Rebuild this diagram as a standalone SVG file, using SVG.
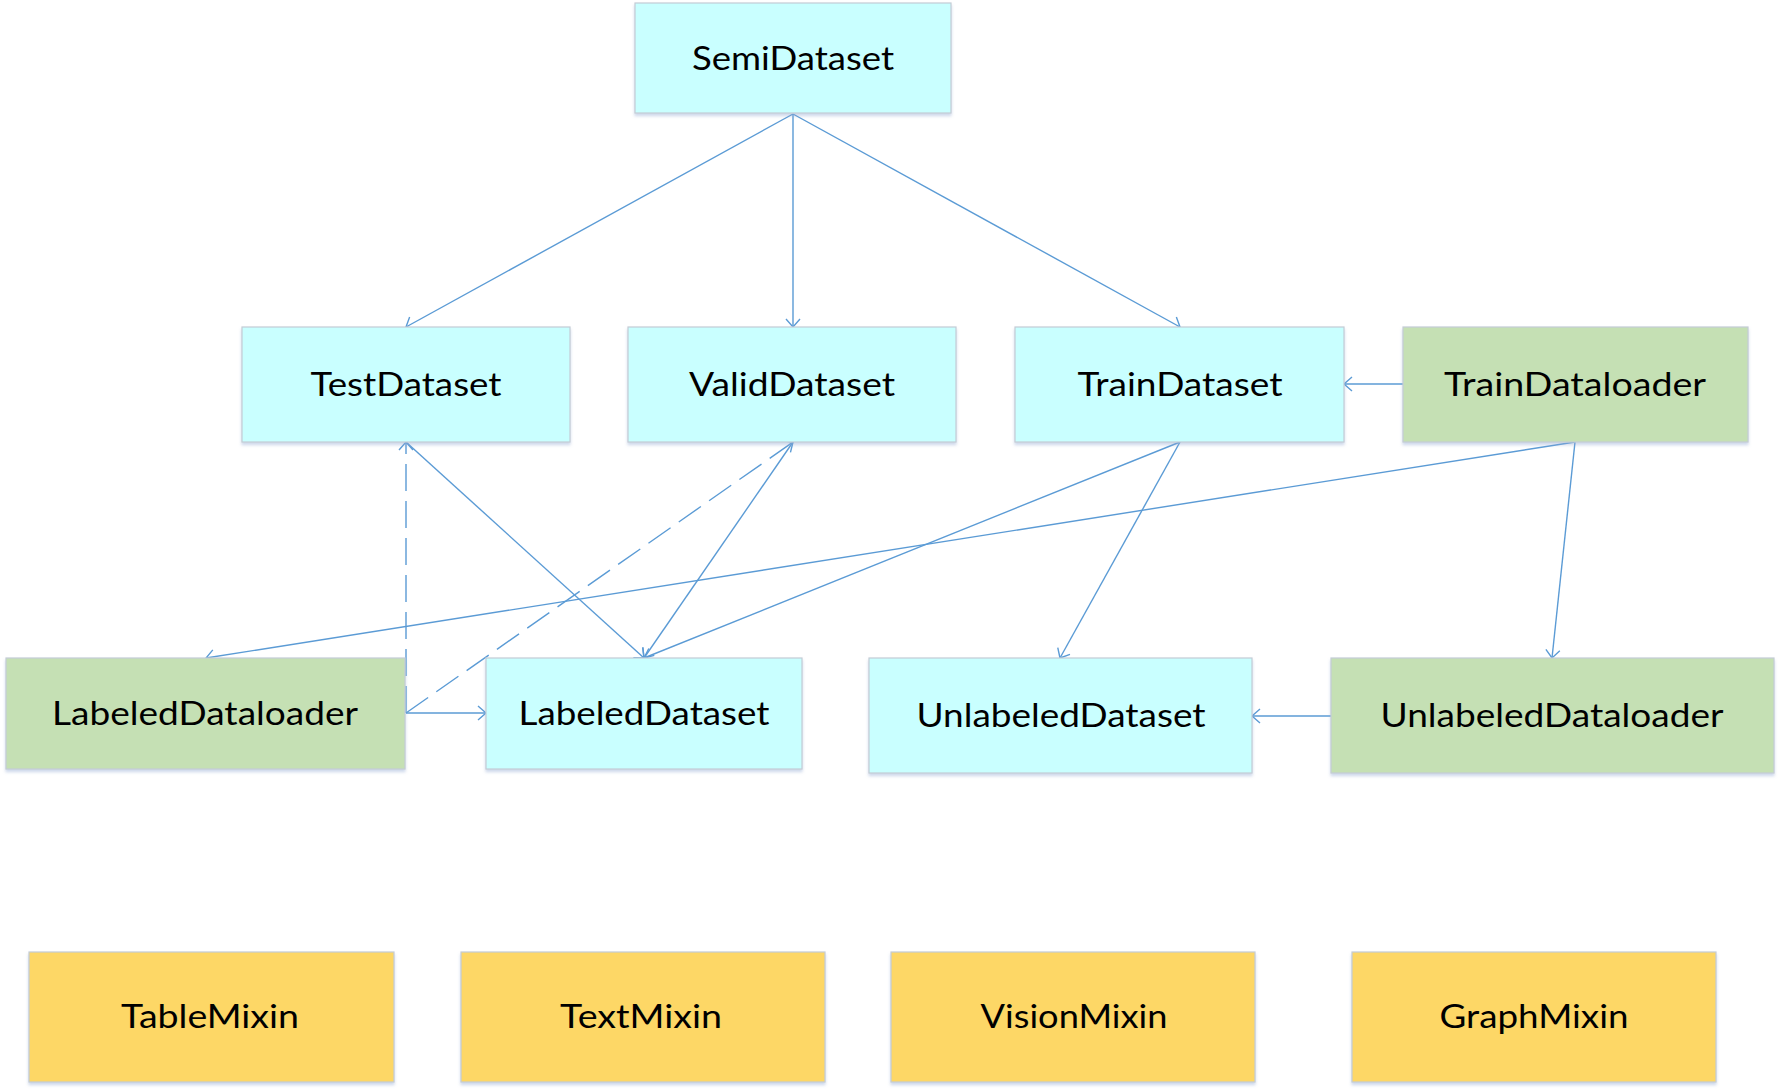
<svg xmlns="http://www.w3.org/2000/svg" width="1781" height="1091" viewBox="0 0 1781 1091">
<style>
.box{stroke:#c4ccd6;stroke-width:1.2;filter:url(#sh)}
.ds{fill:#c9ffff}
.ld{fill:#c5e0b4}
.mx{fill:#fdd766}
text{font-family:Lato,"Open Sans","Liberation Sans",sans-serif;font-size:33px;fill:#000;text-anchor:middle}
.c{fill:none;stroke:#5b9bd5;stroke-width:1.4}
.a{marker-end:url(#ar)}
.d{stroke-dasharray:27 10}
</style>
<defs>
<filter id="sh" x="-5%" y="-5%" width="110%" height="120%">
<feDropShadow dx="0" dy="2.5" stdDeviation="1.5" flood-color="#8fa8d0" flood-opacity="0.45"/>
</filter>
<marker id="ar" markerUnits="userSpaceOnUse" markerWidth="20" markerHeight="20" refX="0" refY="0" viewBox="-10 -10 20 20" orient="auto" overflow="visible">
<path d="M-8,-7 L0,0 L-8,7" fill="none" stroke="#5b9bd5" stroke-width="1.4"/>
</marker>
</defs>
<g id="connectors">
<line class="c a" x1="793" y1="114" x2="406" y2="327"/>
<line class="c a" x1="793" y1="114" x2="793" y2="327"/>
<line class="c a" x1="793" y1="114" x2="1180" y2="327"/>
<line class="c a" x1="1403" y1="384" x2="1344" y2="384"/>
<line class="c a" x1="1575" y1="442" x2="206" y2="658"/>
<line class="c a" x1="1575" y1="442" x2="1552" y2="658"/>
<line class="c a" x1="1180" y1="442" x2="1060" y2="658"/>
<line class="c a" x1="1180" y1="442" x2="644" y2="658"/>
<line class="c a" x1="406" y1="442" x2="644" y2="658"/>
<line class="c a" x1="793" y1="442" x2="644" y2="658"/>
<line class="c a d" x1="406" y1="713" x2="406" y2="442"/>
<line class="c a d" x1="406" y1="713" x2="793" y2="442"/>
<line class="c a" x1="406" y1="713" x2="486" y2="713"/>
<line class="c a" x1="1331" y1="716" x2="1252" y2="716"/>
</g>
<g id="SemiDataset"><rect class="box ds" x="635" y="3" width="316" height="110"/><text x="793" y="70" textLength="202" lengthAdjust="spacingAndGlyphs">SemiDataset</text></g>
<g id="TestDataset"><rect class="box ds" x="242" y="327" width="328" height="115"/><text x="406" y="396" textLength="191" lengthAdjust="spacingAndGlyphs">TestDataset</text></g>
<g id="ValidDataset"><rect class="box ds" x="628" y="327" width="328" height="115"/><text x="792" y="396" textLength="206" lengthAdjust="spacingAndGlyphs">ValidDataset</text></g>
<g id="TrainDataset"><rect class="box ds" x="1015" y="327" width="329" height="115"/><text x="1180" y="396" textLength="205" lengthAdjust="spacingAndGlyphs">TrainDataset</text></g>
<g id="TrainDataloader"><rect class="box ld" x="1403" y="327" width="345" height="115"/><text x="1575" y="396" textLength="262" lengthAdjust="spacingAndGlyphs">TrainDataloader</text></g>
<g id="LabeledDataloader"><rect class="box ld" x="6" y="658" width="399" height="111"/><text x="205" y="725" textLength="306" lengthAdjust="spacingAndGlyphs">LabeledDataloader</text></g>
<g id="LabeledDataset"><rect class="box ds" x="486" y="658" width="316" height="111"/><text x="644" y="725" textLength="251" lengthAdjust="spacingAndGlyphs">LabeledDataset</text></g>
<g id="UnlabeledDataset"><rect class="box ds" x="869" y="658" width="383" height="115"/><text x="1061" y="727" textLength="289" lengthAdjust="spacingAndGlyphs">UnlabeledDataset</text></g>
<g id="UnlabeledDataloader"><rect class="box ld" x="1331" y="658" width="443" height="115"/><text x="1552" y="727" textLength="343" lengthAdjust="spacingAndGlyphs">UnlabeledDataloader</text></g>
<g id="TableMixin"><rect class="box mx" x="29" y="952" width="365" height="130"/><text x="210" y="1028" textLength="178" lengthAdjust="spacingAndGlyphs">TableMixin</text></g>
<g id="TextMixin"><rect class="box mx" x="461" y="952" width="364" height="130"/><text x="641" y="1028" textLength="162" lengthAdjust="spacingAndGlyphs">TextMixin</text></g>
<g id="VisionMixin"><rect class="box mx" x="891" y="952" width="364" height="130"/><text x="1074" y="1028" textLength="187" lengthAdjust="spacingAndGlyphs">VisionMixin</text></g>
<g id="GraphMixin"><rect class="box mx" x="1352" y="952" width="364" height="130"/><text x="1534" y="1028" textLength="189" lengthAdjust="spacingAndGlyphs">GraphMixin</text></g>
</svg>
